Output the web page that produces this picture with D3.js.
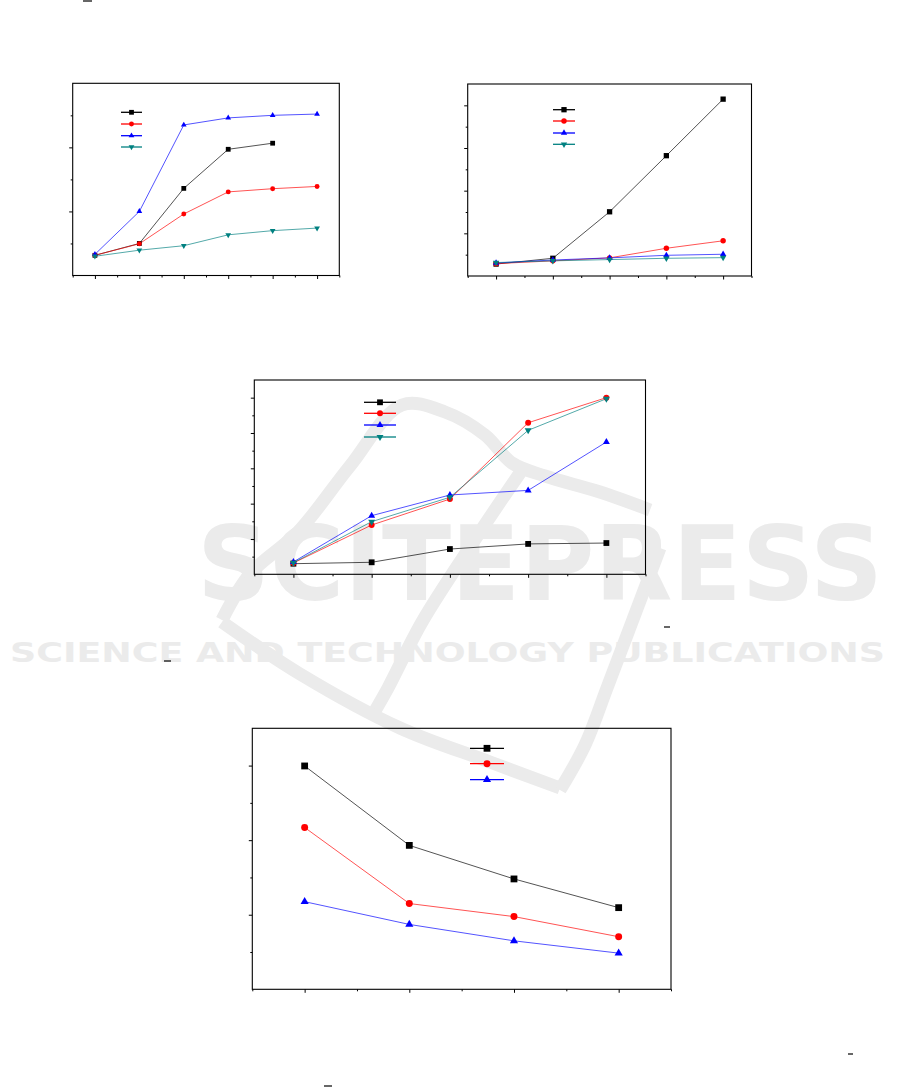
<!DOCTYPE html>
<html><head><meta charset="utf-8">
<script src="https://cdn.jsdelivr.net/npm/d3@7/dist/d3.min.js"></script>
<style>body{margin:0;background:#fff}svg{display:block}</style>
</head><body>
<svg id="c" width="901" height="1088"></svg>
<script>
// ---------- data ----------
const seriesNames = ["black", "red", "blue", "teal"];
const seriesColors = ["#000000", "#ff0000", "#0000ff", "#008080"];
const seriesSymbols = ["square", "circle", "triangle", "triangleDown"];

const c1X = [1, 2, 3, 4, 5, 6];
const c1Black = [0.63, 1.00, 2.72, 3.94, 4.13];
const c1Red = [0.63, 0.99, 1.92, 2.61, 2.71, 2.78];
const c1Blue = [0.66, 2.00, 4.70, 4.92, 5.00, 5.04];
const c1Teal = [0.60, 0.79, 0.93, 1.27, 1.40, 1.48];
const c1YTicks = [1, 2, 3, 4, 5];

const c2X = [1, 2, 3, 4, 5];
const c2Black = [0.56, 0.83, 3.01, 5.64, 8.29];
const c2Red = [0.58, 0.71, 0.85, 1.30, 1.65];
const c2Blue = [0.61, 0.75, 0.85, 0.97, 1.02];
const c2Teal = [0.63, 0.71, 0.77, 0.83, 0.86];
const c2YTicks = [1, 2, 3, 4, 5, 6, 7, 8];

const c3X = [1, 2, 3, 4, 5];
const c3Black = [0.60, 0.68, 1.43, 1.72, 1.77];
const c3Red = [0.64, 2.79, 4.26, 8.58, 10.00];
const c3Blue = [0.70, 3.32, 4.49, 4.75, 7.49];
const c3Teal = [0.66, 2.98, 4.36, 8.15, 9.94];
const c3YTicks = [1, 2, 3, 4, 5, 6, 7, 8, 9, 10];

const c4X = [1, 2, 3, 4];
const c4Black = [5.99, 3.86, 2.96, 2.19];
const c4Red = [4.34, 2.30, 1.95, 1.41];
const c4Blue = [2.35, 1.74, 1.30, 0.97];
const c4YTicks = [1, 2, 3, 4, 5, 6];

const watermarkTitle = "SCITEPRESS";
const watermarkSubtitle = "SCIENCE AND TECHNOLOGY PUBLICATIONS";

// ---------- drawing ----------
const svg = d3.select("#c");
const WM = "#ebebeb";

// watermark (background)
const wm = svg.append("g");
const bandLine = d3.line().curve(d3.curveCatmullRom.alpha(0.5));
const bands = [
  [[222, 620], [250, 574], [298, 532], [350, 466], [402, 405], [445, 412], [485, 435], [512, 463], [545, 476], [600, 492], [650, 510]],
  [[522, 470], [478, 535], [422, 622], [388, 688], [372, 716]],
  [[222, 622], [300, 674], [400, 728], [490, 762], [560, 788]],
  [[560, 790], [585, 745], [607, 688], [632, 622], [660, 548]]
];
bands.forEach(b => wm.append("path").attr("d", bandLine(b)).attr("fill", "none")
  .attr("stroke", WM).attr("stroke-width", 13));
wm.append("text").text(watermarkTitle).attr("x", 197).attr("y", 600)
  .attr("font-family", "DejaVu Sans").attr("font-weight", "bold").attr("font-size", 104)
  .attr("textLength", 686).attr("lengthAdjust", "spacingAndGlyphs").attr("fill", WM);
wm.append("text").text(watermarkSubtitle).attr("x", 10).attr("y", 662)
  .attr("font-family", "DejaVu Sans").attr("font-weight", "bold").attr("font-size", 27)
  .attr("textLength", 875).attr("lengthAdjust", "spacingAndGlyphs").attr("fill", WM);

function symbolPath(kind, s) {
  if (kind === "square") return d3.symbol(d3.symbolSquare, s * s)();
  if (kind === "circle") return d3.symbol(d3.symbolCircle, Math.PI * (s / 2) * (s / 2) * 1.05)();
  return d3.symbol(d3.symbolTriangle, 0.62 * s * s)();
}

function drawChart(cfg) {
  const x = d3.scaleLinear().domain(cfg.xDomain).range([cfg.left, cfg.right]);
  const y = d3.scaleLinear().domain(cfg.yDomain).range([cfg.bottom, cfg.top]);
  const g = svg.append("g");

  const xMinor = d3.range(cfg.xDomain[0], cfg.xDomain[1] + 0.001, 1);
  const yMajor = cfg.yTicks.filter(v => v % 2 === 0);
  const yMinor = cfg.yTicks.filter(v => v % 2 !== 0);

  const addAxis = (axis, tr) => {
    const a = g.append("g").attr("transform", tr).call(axis);
    a.select(".domain").remove();
    a.selectAll("line").attr("stroke", "#000").attr("stroke-width", 1);
  };
  addAxis(d3.axisBottom(x).tickValues(cfg.xValues).tickSize(3.5).tickFormat(""), `translate(0,${cfg.bottom})`);
  addAxis(d3.axisBottom(x).tickValues(xMinor).tickSize(2).tickFormat(""), `translate(0,${cfg.bottom})`);
  addAxis(d3.axisLeft(y).tickValues(yMajor).tickSize(3.5).tickFormat(""), `translate(${cfg.left},0)`);
  addAxis(d3.axisLeft(y).tickValues(yMinor).tickSize(2).tickFormat(""), `translate(${cfg.left},0)`);

  g.append("rect").attr("x", cfg.left).attr("y", cfg.top)
    .attr("width", cfg.right - cfg.left).attr("height", cfg.bottom - cfg.top)
    .attr("fill", "none").attr("stroke", "#000").attr("stroke-width", 1.1);

  const line = d3.line().x(d => x(d[0])).y(d => y(d[1]));
  cfg.series.forEach((vals, i) => {
    const pts = vals.map((v, j) => [cfg.xValues[j], v]);
    g.append("path").attr("d", line(pts)).attr("fill", "none")
      .attr("stroke", seriesColors[i]).attr("stroke-width", 0.8).attr("stroke-opacity", 0.85);
  });
  cfg.series.forEach((vals, i) => {
    const pts = vals.map((v, j) => [cfg.xValues[j], v]);
    const kind = seriesSymbols[i];
    g.selectAll(null).data(pts).enter().append("path")
      .attr("d", symbolPath(kind, cfg.ms))
      .attr("transform", d => `translate(${x(d[0])},${y(d[1])})` + (kind === "triangleDown" ? " rotate(180)" : ""))
      .attr("fill", seriesColors[i]);
  });

  // legend (no text in the reference)
  cfg.series.forEach((vals, i) => {
    const ly = cfg.legendY[i];
    g.append("line").attr("x1", cfg.legendX[0]).attr("x2", cfg.legendX[1])
      .attr("y1", ly).attr("y2", ly).attr("stroke", seriesColors[i]).attr("stroke-width", 1.3);
    const kind = seriesSymbols[i];
    g.append("path").attr("d", symbolPath(kind, cfg.ms))
      .attr("transform", `translate(${(cfg.legendX[0] + cfg.legendX[1]) / 2},${ly})` + (kind === "triangleDown" ? " rotate(180)" : ""))
      .attr("fill", seriesColors[i]);
  });
}

drawChart({
  left: 72.7, right: 339.3, top: 83.3, bottom: 275.5,
  xDomain: [0.5, 6.5], yDomain: [0, 6], xValues: c1X, yTicks: c1YTicks,
  series: [c1Black, c1Red, c1Blue, c1Teal], ms: 4.8,
  legendX: [121, 142], legendY: [112.3, 124, 135.7, 147]
});
drawChart({
  left: 467.7, right: 751.5, top: 84, bottom: 276,
  xDomain: [0.5, 5.5], yDomain: [0, 9], xValues: c2X, yTicks: c2YTicks,
  series: [c2Black, c2Red, c2Blue, c2Teal], ms: 5.3,
  legendX: [553, 575], legendY: [109.7, 121, 133, 144.3]
});
drawChart({
  left: 254.3, right: 645.5, top: 380, bottom: 574.3,
  xDomain: [0.5, 5.5], yDomain: [0, 11], xValues: c3X, yTicks: c3YTicks,
  series: [c3Black, c3Red, c3Blue, c3Teal], ms: 5.8,
  legendX: [364, 396], legendY: [402.3, 413.3, 425, 437]
});
drawChart({
  left: 252.3, right: 671, top: 728.3, bottom: 989.3,
  xDomain: [0.5, 4.5], yDomain: [0, 7], xValues: c4X, yTicks: c4YTicks,
  series: [c4Black, c4Red, c4Blue], ms: 6.8,
  legendX: [470, 504], legendY: [748.3, 763.7, 779.7]
});

// small text remnants (underscore glyphs) visible in the reference
const dashes = [[83, 92, 1], [164, 171, 661], [664, 670, 627], [848, 853, 1054], [324, 332, 1086]];
svg.append("g").selectAll("line").data(dashes).enter().append("line")
  .attr("x1", d => d[0]).attr("x2", d => d[1]).attr("y1", d => d[2]).attr("y2", d => d[2])
  .attr("stroke", "#000").attr("stroke-width", 1.2);
</script>
</body></html>
